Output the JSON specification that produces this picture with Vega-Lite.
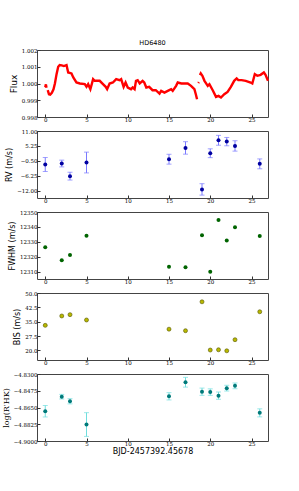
{
  "$schema": "https://vega.github.io/schema/vega-lite/v6.json",
  "background": "white",
  "padding": {"left": 1, "top": 39, "right": 30, "bottom": 5},
  "bounds": "flush",
  "spacing": 14,
  "datasets": {
    "flux": [
      {"t": 0.0, "f": 0.99978, "seg": "a"}, {"t": 0.08, "f": 0.99995, "seg": "a"}, {"t": 0.15, "f": 0.99975, "seg": "a"},
      {"t": 0.30, "f": 0.99960, "seg": "b"}, {"t": 0.45, "f": 0.99936, "seg": "b"}, {"t": 0.60, "f": 0.99934, "seg": "b"},
      {"t": 0.80, "f": 0.99945, "seg": "b"}, {"t": 1.00, "f": 0.99965, "seg": "b"}, {"t": 1.17, "f": 1.00000, "seg": "b"},
      {"t": 1.37, "f": 1.00056, "seg": "b"}, {"t": 1.57, "f": 1.00100, "seg": "b"}, {"t": 1.75, "f": 1.00110, "seg": "b"},
      {"t": 2.00, "f": 1.00108, "seg": "b"}, {"t": 2.25, "f": 1.00104, "seg": "b"}, {"t": 2.58, "f": 1.00110, "seg": "b"},
      {"t": 2.78, "f": 1.00066, "seg": "b"}, {"t": 3.18, "f": 1.00060, "seg": "b"}, {"t": 3.40, "f": 1.00036, "seg": "b"},
      {"t": 3.78, "f": 1.00006, "seg": "b"}, {"t": 4.20, "f": 1.00000, "seg": "b"}, {"t": 4.79, "f": 0.99996, "seg": "b"},
      {"t": 5.00, "f": 0.99980, "seg": "b"}, {"t": 5.20, "f": 0.99996, "seg": "b"}, {"t": 5.47, "f": 0.99966, "seg": "b"},
      {"t": 5.80, "f": 1.00026, "seg": "b"}, {"t": 6.00, "f": 1.00016, "seg": "b"}, {"t": 6.60, "f": 1.00016, "seg": "b"},
      {"t": 7.00, "f": 0.99996, "seg": "b"}, {"t": 7.33, "f": 0.99980, "seg": "b"}, {"t": 7.50, "f": 0.99966, "seg": "b"},
      {"t": 7.80, "f": 1.00000, "seg": "b"}, {"t": 8.20, "f": 1.00006, "seg": "b"}, {"t": 8.60, "f": 1.00026, "seg": "b"},
      {"t": 9.00, "f": 1.00020, "seg": "b"}, {"t": 9.20, "f": 1.00026, "seg": "b"}, {"t": 9.50, "f": 0.99980, "seg": "b"},
      {"t": 9.74, "f": 1.00006, "seg": "b"}, {"t": 10.0, "f": 0.99976, "seg": "b"}, {"t": 10.4, "f": 0.99966, "seg": "b"},
      {"t": 10.6, "f": 0.99976, "seg": "b"}, {"t": 10.83, "f": 0.99966, "seg": "b"}, {"t": 11.0, "f": 1.00016, "seg": "b"},
      {"t": 11.2, "f": 1.00020, "seg": "b"}, {"t": 11.45, "f": 1.00000, "seg": "b"}, {"t": 11.8, "f": 1.00016, "seg": "b"},
      {"t": 12.0, "f": 1.00006, "seg": "b"}, {"t": 12.25, "f": 0.99976, "seg": "b"}, {"t": 12.6, "f": 0.99980, "seg": "b"},
      {"t": 13.0, "f": 0.99960, "seg": "b"}, {"t": 13.4, "f": 0.99960, "seg": "b"}, {"t": 13.85, "f": 0.99940, "seg": "b"},
      {"t": 14.05, "f": 0.99956, "seg": "b"}, {"t": 14.45, "f": 0.99946, "seg": "b"}, {"t": 14.85, "f": 0.99956, "seg": "b"},
      {"t": 15.26, "f": 0.99966, "seg": "b"}, {"t": 15.45, "f": 0.99956, "seg": "b"}, {"t": 15.86, "f": 0.99986, "seg": "b"},
      {"t": 16.06, "f": 1.00006, "seg": "b"}, {"t": 16.5, "f": 1.00000, "seg": "b"}, {"t": 17.27, "f": 1.00000, "seg": "b"},
      {"t": 17.67, "f": 0.99986, "seg": "b"}, {"t": 18.08, "f": 0.99966, "seg": "b"}, {"t": 18.25, "f": 0.99936, "seg": "b"},
      {"t": 18.4, "f": 0.99906, "seg": "b"},
      {"t": 18.55, "f": 1.00003, "seg": "c"}, {"t": 18.62, "f": 1.00008, "seg": "c"},
      {"t": 18.75, "f": 1.00050, "seg": "d"}, {"t": 18.85, "f": 1.00060, "seg": "d"}, {"t": 19.05, "f": 1.00046, "seg": "d"},
      {"t": 19.3, "f": 1.00016, "seg": "d"}, {"t": 19.7, "f": 0.99986, "seg": "d"}, {"t": 19.9, "f": 0.99996, "seg": "d"},
      {"t": 20.3, "f": 0.99960, "seg": "d"}, {"t": 20.7, "f": 0.99920, "seg": "d"}, {"t": 21.0, "f": 0.99926, "seg": "d"},
      {"t": 21.3, "f": 0.99916, "seg": "d"}, {"t": 21.7, "f": 0.99936, "seg": "d"}, {"t": 22.1, "f": 0.99950, "seg": "d"},
      {"t": 22.5, "f": 0.99980, "seg": "d"}, {"t": 22.9, "f": 1.00016, "seg": "d"}, {"t": 23.2, "f": 1.00030, "seg": "d"},
      {"t": 23.4, "f": 1.00020, "seg": "d"}, {"t": 23.8, "f": 1.00020, "seg": "d"}, {"t": 24.3, "f": 1.00016, "seg": "d"},
      {"t": 24.9, "f": 1.00006, "seg": "d"}, {"t": 25.1, "f": 1.00000, "seg": "d"}, {"t": 25.4, "f": 1.00056, "seg": "d"},
      {"t": 25.7, "f": 1.00046, "seg": "d"}, {"t": 26.1, "f": 1.00052, "seg": "d"}, {"t": 26.5, "f": 1.00066, "seg": "d"},
      {"t": 26.7, "f": 1.00052, "seg": "d"}, {"t": 27.0, "f": 1.00016, "seg": "d"}
    ],
    "obs": [
      {"t": 0, "rv": -1.90, "rverr": 2.7, "fwhm": 12326.4, "bis": 33.1, "rhk": -4.8689, "rhkerr": 0.0060},
      {"t": 2, "rv": -1.52, "rverr": 1.3, "fwhm": 12317.6, "bis": 38.0, "rhk": -4.8537, "rhkerr": 0.0024},
      {"t": 3, "rv": -6.38, "rverr": 1.5, "fwhm": 12321.1, "bis": 38.7, "rhk": -4.8585, "rhkerr": 0.0027},
      {"t": 5, "rv": -1.14, "rverr": 4.0, "fwhm": 12334.0, "bis": 35.9, "rhk": -4.8828, "rhkerr": 0.0124},
      {"t": 15, "rv": 0.14, "rverr": 1.9, "fwhm": 12313.3, "bis": 31.1, "rhk": -4.8533, "rhkerr": 0.0038},
      {"t": 17, "rv": 4.48, "rverr": 2.4, "fwhm": 12312.9, "bis": 30.3, "rhk": -4.8386, "rhkerr": 0.0051},
      {"t": 19, "rv": -11.49, "rverr": 2.2, "fwhm": 12334.4, "bis": 45.4, "rhk": -4.8485, "rhkerr": 0.0038},
      {"t": 20, "rv": 2.44, "rverr": 1.7, "fwhm": 12309.8, "bis": 20.2, "rhk": -4.8489, "rhkerr": 0.0034},
      {"t": 21, "rv": 7.42, "rverr": 1.9, "fwhm": 12344.7, "bis": 20.35, "rhk": -4.8526, "rhkerr": 0.0038},
      {"t": 22, "rv": 6.91, "rverr": 1.6, "fwhm": 12330.9, "bis": 19.8, "rhk": -4.8448, "rhkerr": 0.0030},
      {"t": 23, "rv": 5.25, "rverr": 2.0, "fwhm": 12339.7, "bis": 25.6, "rhk": -4.8424, "rhkerr": 0.0030},
      {"t": 26, "rv": -1.65, "rverr": 1.9, "fwhm": 12333.8, "bis": 40.2, "rhk": -4.8706, "rhkerr": 0.0042}
    ]
  },
  "config": {
    "view": {"stroke": "#444", "strokeWidth": 1},
    "axis": {
      "grid": false,
      "domain": false,
      "labelFont": "DejaVu Serif",
      "labelFontSize": 5.5,
      "labelColor": "#000",
      "titleFont": "DejaVu Sans",
      "titleFontSize": 8,
      "titleFontWeight": "normal",
      "titleColor": "#000",
      "titlePadding": 3,
      "tickColor": "#333",
      "tickSize": -3,
      "labelPadding": 3
    }
  },
  "vconcat": [
    {
      "width": 231, "height": 67,
      "title": {"text": "HD6480", "font": "DejaVu Sans", "fontSize": 6.5, "fontWeight": "normal", "offset": 2},
      "data": {"name": "flux"},
      "mark": {"type": "line", "color": "#ff0000", "strokeWidth": 2.4},
      "encoding": {
        "x": {"field": "t", "type": "quantitative", "scale": {"domain": [-1, 27], "nice": false}, "axis": {"values": [0, 5, 10, 15, 20, 25], "format": "d", "title": null}},
        "y": {"field": "f", "type": "quantitative", "scale": {"domain": [0.998, 1.002], "nice": false, "zero": false}, "axis": {"values": [0.998, 0.999, 1.0, 1.001, 1.002], "format": ".3f", "title": "Flux", "titleFontSize": 9}},
        "detail": {"field": "seg"}
      }
    },
    {
      "width": 231, "height": 67,
      "data": {"name": "obs"},
      "layer": [
        {
          "mark": {"type": "errorbar", "color": "#7a7aff", "ticks": true, "thickness": 1},
          "encoding": {
            "x": {"field": "t", "type": "quantitative"},
            "y": {"field": "rv", "type": "quantitative"},
            "yError": {"field": "rverr"}
          }
        },
        {
          "mark": {"type": "point", "shape": "circle", "filled": true, "size": 16, "color": "#0000a0", "opacity": 1},
          "encoding": {
            "x": {"field": "t", "type": "quantitative"},
            "y": {"field": "rv", "type": "quantitative"}
          }
        }
      ],
      "encoding": {
        "x": {"field": "t", "type": "quantitative", "scale": {"domain": [-1, 27], "nice": false}, "axis": {"values": [0, 5, 10, 15, 20, 25], "format": "d", "title": null}},
        "y": {"field": "rv", "type": "quantitative", "scale": {"domain": [-14.8, 11], "nice": false, "zero": false}, "axis": {"values": [-12, -6.25, -0.5, 5.25, 11], "format": ".2f", "title": "RV (m/s)"}}
      }
    },
    {
      "width": 231, "height": 67,
      "data": {"name": "obs"},
      "mark": {"type": "point", "shape": "circle", "filled": true, "size": 16, "color": "#006400", "opacity": 1},
      "encoding": {
        "x": {"field": "t", "type": "quantitative", "scale": {"domain": [-1, 27], "nice": false}, "axis": {"values": [0, 5, 10, 15, 20, 25], "format": "d", "title": null}},
        "y": {"field": "fwhm", "type": "quantitative", "scale": {"domain": [12305, 12350], "nice": false, "zero": false}, "axis": {"values": [12310, 12320, 12330, 12340, 12350], "format": "d", "title": "FWHM (m/s)"}}
      }
    },
    {
      "width": 231, "height": 67,
      "data": {"name": "obs"},
      "mark": {"type": "point", "shape": "circle", "filled": true, "size": 16, "color": "#b8b800", "stroke": "#555500", "strokeWidth": 0.6, "opacity": 1},
      "encoding": {
        "x": {"field": "t", "type": "quantitative", "scale": {"domain": [-1, 27], "nice": false}, "axis": {"values": [0, 5, 10, 15, 20, 25], "format": "d", "title": null}},
        "y": {"field": "bis", "type": "quantitative", "scale": {"domain": [15, 50], "nice": false, "zero": false}, "axis": {"values": [20, 27.5, 35, 42.5, 50], "format": ".1f", "title": "BIS (m/s)"}}
      }
    },
    {
      "width": 231, "height": 67,
      "data": {"name": "obs"},
      "layer": [
        {
          "mark": {"type": "errorbar", "color": "#70dede", "ticks": true, "thickness": 1},
          "encoding": {
            "x": {"field": "t", "type": "quantitative"},
            "y": {"field": "rhk", "type": "quantitative"},
            "yError": {"field": "rhkerr"}
          }
        },
        {
          "mark": {"type": "point", "shape": "circle", "filled": true, "size": 16, "color": "#007a7a", "opacity": 1},
          "encoding": {
            "x": {"field": "t", "type": "quantitative"},
            "y": {"field": "rhk", "type": "quantitative"}
          }
        }
      ],
      "encoding": {
        "x": {"field": "t", "type": "quantitative", "scale": {"domain": [-1, 27], "nice": false}, "axis": {"values": [0, 5, 10, 15, 20, 25], "format": "d", "title": "BJD-2457392.45678", "titleFontSize": 8, "titlePadding": 1}},
        "y": {"field": "rhk", "type": "quantitative", "scale": {"domain": [-4.9, -4.83], "nice": false, "zero": false}, "axis": {"values": [-4.9, -4.8825, -4.865, -4.8475, -4.83], "format": ".4f", "title": "log(R′HK)", "titleFont": "DejaVu Serif"}}
      }
    }
  ]
}
